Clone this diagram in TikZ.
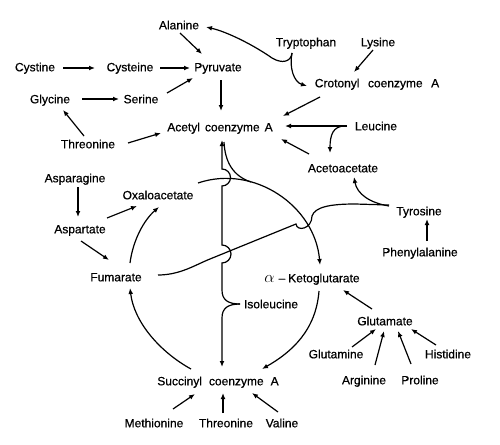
\documentclass[tikz,border=0pt]{standalone}
\usepackage{fontspec}
\setmainfont{Liberation Sans}
\newfontfamily\lblfont{Liberation Sans}[FakeBold=0.6]
\usetikzlibrary{calc,arrows.meta}
\begin{document}
\begin{tikzpicture}[x=1pt,y=-1pt,
  lbl/.style={inner sep=0pt,text height=8.6pt,text depth=0pt,font=\lblfont\fontsize{12}{14}\selectfont},
  conn/.style={line width=1.2pt,-{Latex[length=6pt,width=4.8pt]}},
  plainline/.style={line width=1.2pt}]
\useasboundingbox (0,0) rectangle (500,444);
\fill[white] (0,0) rectangle (500,444);
% nodes
\node[lbl] (ala) at (179,25) {Alanine};
\node[lbl] (tryp) at (306,42) {Tryptophan};
\node[lbl] (lys) at (378,42) {Lysine};
\node[lbl] (cysti) at (35,67) {Cystine};
\node[lbl] (cyste) at (130,67) {Cysteine};
\node[lbl] (pyr) at (218,67) {Pyruvate};
\node[lbl] (crot) at (377,83) {Crotonyl\hspace{8.5pt}coenzyme\hspace{8.5pt}A};
\node[lbl] (gly) at (50,99) {Glycine};
\node[lbl] (ser) at (141,99) {Serine};
\node[lbl] (acetyl) at (220,127) {Acetyl\hspace{5pt}coenzyme\hspace{5pt}A};
\node[lbl] (thr1) at (88,144) {Threonine};
\node[lbl] (leu) at (376,126) {Leucine};
\node[lbl] (acac) at (343,168) {Acetoacetate};
\node[lbl] (asn) at (75,178) {Asparagine};
\node[lbl] (oaa) at (158,195) {Oxaloacetate};
\node[lbl] (tyr) at (419,211) {Tyrosine};
\node[lbl] (asp) at (80,229) {Aspartate};
\node[lbl] (phe) at (420,252) {Phenylalanine};
\node[lbl] (fum) at (116,277) {Fumarate};
\node[lbl] (akg) at (312,278) {\scalebox{1.35}{$\alpha$}\hspace{4pt}\textendash\hspace{3pt}Ketoglutarate};
\node[lbl] (ile) at (271,304) {Isoleucine};
\node[lbl] (glu) at (385,321) {Glutamate};
\node[lbl] (gln) at (336,354) {Glutamine};
\node[lbl] (his) at (448,354) {Histidine};
\node[lbl] (succ) at (218,381) {Succinyl\hspace{7pt}coenzyme\hspace{7pt}A};
\node[lbl] (arg) at (364,380) {Arginine};
\node[lbl] (pro) at (420,380) {Proline};
\node[lbl] (met) at (154,423) {Methionine};
\node[lbl] (thr2) at (226,423) {Threonine};
\node[lbl] (val) at (282,423) {Valine};
% straight arrows
\draw[conn] ($(ala)+(1,8)$) -- ($(pyr)+(-16,-13)$);
\draw[conn] ($(cysti)+(28,1)$) -- ($(cyste)+(-35,1)$);
\draw[conn] ($(cyste)+(30,1)$) -- ($(pyr)+(-28,1)$);
\draw[conn] ($(ser)+(26,-6)$) -- ($(pyr)+(-25,11)$);
\draw[conn] ($(gly)+(32,0)$) -- ($(ser)+(-22,0)$);
\draw[conn] ($(thr1)+(-4,-8)$) -- ($(gly)+(13,11)$);
\draw[conn] ($(thr1)+(40,-1)$) -- ($(acetyl)+(-59,6)$);
\draw[conn] ($(pyr)+(3,13)$) -- ($(acetyl)+(1,-16)$);
\draw[conn] ($(lys)+(-5,8)$) -- ($(crot)+(-23,-11)$);
\draw[conn] ($(crot)+(-57,14)$) -- ($(acetyl)+(63,-11)$);
\draw[conn] ($(leu)+(-29,0)$) -- ($(acetyl)+(65,-1)$);
\draw[conn] ($(acac)+(-34,-14)$) -- ($(acetyl)+(61,12)$);
\draw[conn] ($(asn)+(3,9)$) -- ($(asp)+(-2,-12)$);
\draw[conn] ($(asp)+(27,-11)$) -- ($(oaa)+(-21,11)$);
\draw[conn] ($(asp)+(1,12)$) -- ($(fum)+(-7,-17)$);
\draw[conn] ($(phe)+(7,-11)$) -- ($(tyr)+(8,8)$);
\draw[conn] ($(met)+(19,-14)$) -- ($(succ)+(-23,13)$);
\draw[conn] ($(thr2)+(-3,-10)$) -- ($(succ)+(5,12)$);
\draw[conn] ($(val)+(-4,-11)$) -- ($(succ)+(34,12)$);
\draw[conn] ($(glu)+(-13,-12)$) -- ($(akg)+(31,12)$);
\draw[conn] ($(gln)+(16,-7)$) -- ($(glu)+(-9,8)$);
\draw[conn] ($(arg)+(11,-15)$) -- ($(glu)+(-1,10)$);
\draw[conn] ($(pro)+(-9,-16)$) -- ($(glu)+(13,10)$);
\draw[conn] ($(his)+(-12,-9)$) -- ($(glu)+(26,8)$);
% tryptophan branches
\coordinate (tp) at ($(tryp)+(-14,11)$);
\draw[conn] (tp) .. controls (291,62) and (282,64) .. (272,58)
  .. controls (255,46) and (228,32) .. ($(ala)+(27,2)$);
\draw[conn] (tp) .. controls (289,68) and (294,82) .. ($(crot)+(-70,3)$);
% leucine to acetoacetate
\draw[conn] ($(leu)+(-31,0)$) .. controls (333,126) and (330,135) .. ($(acac)+(-13,-15)$);
% tyrosine to acetoacetate
\draw[conn] ($(tyr)+(-30,-5)$) .. controls (370,203) and (357,194) .. ($(acac)+(11,9)$);
% cycle
\draw[conn] ($(oaa)+(40,-12)$) .. controls (254,164) and (315,206) .. ($(akg)+(8,-13)$);
\draw[conn] ($(akg)+(7,13)$) .. controls (316,330) and (292,352) .. ($(succ)+(44,-12)$);
\draw[conn] ($(succ)+(-27,-12)$) .. controls (160,352) and (134,322) .. ($(fum)+(14,11)$);
\draw[conn] ($(fum)+(14,-14)$) .. controls (133,240) and (144,220) .. ($(oaa)+(1,12)$);
% acetyl CoA into cycle
\draw[plainline] ($(acetyl)+(4,15)$) .. controls (225,162) and (233,176) .. (251,182);
% tyrosine to fumarate line
\draw[plainline] ($(tyr)+(-30,-6)$) -- (355,204) .. controls (330,204) and (315,207) .. (312,216)
  .. controls (312,229) and (297,232) .. (296,224) -- (210,259)
  .. controls (195,265) and (180,275) .. ($(fum)+(42,-2)$);
% isoleucine brace
\coordinate (tip) at ($(ile)+(-31,0)$);
\draw[conn] (tip) .. controls (228,304) and (222,300) .. (222,290) -- (222,263)
  arc[start angle=90,end angle=-90,radius=9] -- (222,186)
  arc[start angle=90,end angle=-90,radius=8.5] -- ($(acetyl)+(2,13)$);
\draw[conn] (tip) .. controls (228,304) and (222,308) .. (222,318) -- ($(succ)+(4,-14)$);
\end{tikzpicture}
\end{document}
